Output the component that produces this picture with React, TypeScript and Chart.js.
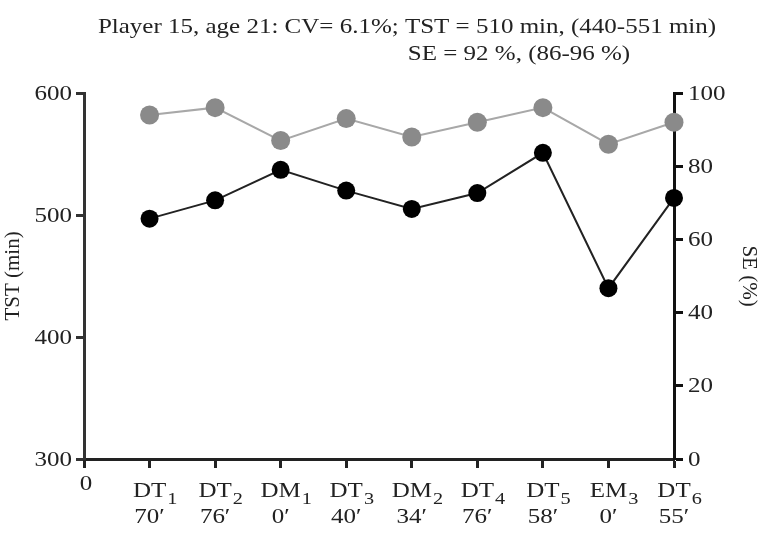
import { useEffect, useRef } from 'react';
import { Chart, registerables } from 'chart.js';

Chart.register(...registerables);

// Session types, their running index and minutes played
const sessionTypes = ['DT', 'DT', 'DM', 'DT', 'DM', 'DT', 'DT', 'EM', 'DT'];
const sessionNumbers = ['1', '2', '1', '3', '2', '4', '5', '3', '6'];
const minutesPlayed = ['70′', '76′', '0′', '40′', '34′', '76′', '58′', '0′', '55′'];

// Total sleep time (min) and sleep efficiency (%) per session
const tstMinutes = [497, 512, 537, 520, 505, 518, 551, 440, 514];
const sePercent = [94, 96, 87, 93, 88, 92, 96, 86, 92];

// Axis ranges / steps
const tstRange = [300, 600];
const tstStep = 100;
const seRange = [0, 100];
const seStep = 20;

const titleLine1 = 'Player 15, age 21: CV= 6.1%; TST = 510 min, (440-551 min)';
const titleLine2 = 'SE = 92 %, (86-96 %)';

const FONT = '"Liberation Serif", "Times New Roman", serif';
const TEXT = '#222';
const SIZE = 21;
const SX = 1.19; // horizontal text widening

function wideText(
  ctx: CanvasRenderingContext2D,
  text: string,
  x: number,
  y: number,
  align: CanvasTextAlign,
  size: number,
  baseline: CanvasTextBaseline = 'alphabetic'
) {
  ctx.save();
  ctx.font = `${size}px ${FONT}`;
  ctx.textAlign = align;
  ctx.textBaseline = baseline;
  ctx.fillStyle = TEXT;
  ctx.translate(x, y);
  ctx.scale(SX, 1);
  ctx.fillText(text, 0, 0);
  ctx.restore();
}

function textWidth(ctx: CanvasRenderingContext2D, text: string, size: number) {
  ctx.save();
  ctx.font = `${size}px ${FONT}`;
  const w = ctx.measureText(text).width * SX;
  ctx.restore();
  return w;
}

// Two-line header above the plot
const headerPlugin = {
  id: 'header',
  afterDraw(chart: any) {
    const { ctx } = chart;
    wideText(ctx, titleLine1, 407, 33, 'center', SIZE);
    wideText(ctx, titleLine2, 519, 60, 'center', SIZE);
  },
};

// Tick labels for both value axes and the x axis
const tickLabelPlugin = {
  id: 'tickLabels',
  afterDraw(chart: any) {
    const { ctx } = chart;
    const { x, y, y1 } = chart.scales;
    y.ticks.forEach((t: any) => {
      const py = y.getPixelForValue(t.value);
      wideText(ctx, String(t.value), y.right - 12, py + 1, 'right', SIZE, 'middle');
    });
    y1.ticks.forEach((t: any) => {
      const py = y1.getPixelForValue(t.value);
      wideText(ctx, String(t.value), y1.left + 14, py + 1, 'left', SIZE, 'middle');
    });

    const base = x.top;
    wideText(ctx, '0', x.getPixelForValue(0) + 2, base + 31, 'center', SIZE);
    sessionTypes.forEach((name, i) => {
      const cx = x.getPixelForValue(i + 1);
      const w1 = textWidth(ctx, name, SIZE);
      wideText(ctx, name, cx, base + 38, 'center', SIZE);
      wideText(ctx, sessionNumbers[i], cx + w1 / 2 + 1, base + 45, 'left', 17);
      wideText(ctx, minutesPlayed[i], cx, base + 64, 'center', SIZE);
    });
  },
};

export default function App() {
  const canvasRef = useRef<HTMLCanvasElement | null>(null);

  useEffect(() => {
    if (!canvasRef.current) return;
    Chart.defaults.font.family = FONT;
    const chart = new Chart(canvasRef.current, {
      type: 'line',
      data: {
        datasets: [
          {
            label: 'SE',
            yAxisID: 'y1',
            data: sePercent.map((v, i) => ({ x: i + 1, y: v })),
            borderColor: '#a8a8a8',
            borderWidth: 2,
            pointBackgroundColor: '#8a8a8a',
            pointBorderColor: '#8a8a8a',
            pointBorderWidth: 0,
            pointRadius: 9.5,
            clip: false,
          },
          {
            label: 'TST',
            yAxisID: 'y',
            data: tstMinutes.map((v, i) => ({ x: i + 1, y: v })),
            borderColor: '#222',
            borderWidth: 2,
            pointBackgroundColor: '#000',
            pointBorderColor: '#000',
            pointBorderWidth: 0,
            pointRadius: 9,
            clip: false,
          },
        ],
      },
      options: {
        animation: false,
        responsive: true,
        maintainAspectRatio: false,
        layout: { padding: { top: 93, left: 0, right: 0, bottom: 0 } },
        plugins: {
          legend: { display: false },
          title: { display: false },
          tooltip: { enabled: false },
        },
        scales: {
          x: {
            type: 'linear',
            min: 0,
            max: 9,
            afterFit: (s: any) => {
              s.height = 75;
            },
            grid: {
              drawOnChartArea: false,
              tickLength: 9,
              tickWidth: 3,
              tickColor: '#222',
            },
            border: { display: true, width: 3, color: '#222' },
            ticks: { stepSize: 1, autoSkip: false, display: false },
          },
          y: {
            type: 'linear',
            position: 'left',
            min: tstRange[0],
            max: tstRange[1],
            afterFit: (s: any) => {
              s.width = 84;
            },
            grid: {
              drawOnChartArea: false,
              tickLength: 8,
              tickWidth: 3,
              tickColor: '#333',
            },
            border: { display: true, width: 3, color: '#333' },
            ticks: { stepSize: tstStep, display: false },
            title: {
              display: true,
              text: 'TST (min)',
              color: TEXT,
              font: { size: SIZE, family: FONT },
              padding: { top: 1, bottom: 0 },
            },
          },
          y1: {
            type: 'linear',
            position: 'right',
            min: seRange[0],
            max: seRange[1],
            afterFit: (s: any) => {
              s.width = 99;
            },
            grid: {
              drawOnChartArea: false,
              tickLength: 9,
              tickWidth: 3,
              tickColor: '#111',
            },
            border: { display: true, width: 3, color: '#111' },
            ticks: { stepSize: seStep, display: false },
            title: {
              display: true,
              text: 'SE (%)',
              color: TEXT,
              font: { size: SIZE, family: FONT },
              padding: { top: 12, bottom: 0 },
            },
          },
        },
      },
      plugins: [headerPlugin, tickLabelPlugin],
    });
    return () => chart.destroy();
  }, []);

  return (
    <div
      style={{
        position: 'absolute',
        left: 0,
        top: 0,
        width: 773,
        height: 534,
        background: '#fff',
      }}
    >
      <canvas ref={canvasRef} />
    </div>
  );
}
